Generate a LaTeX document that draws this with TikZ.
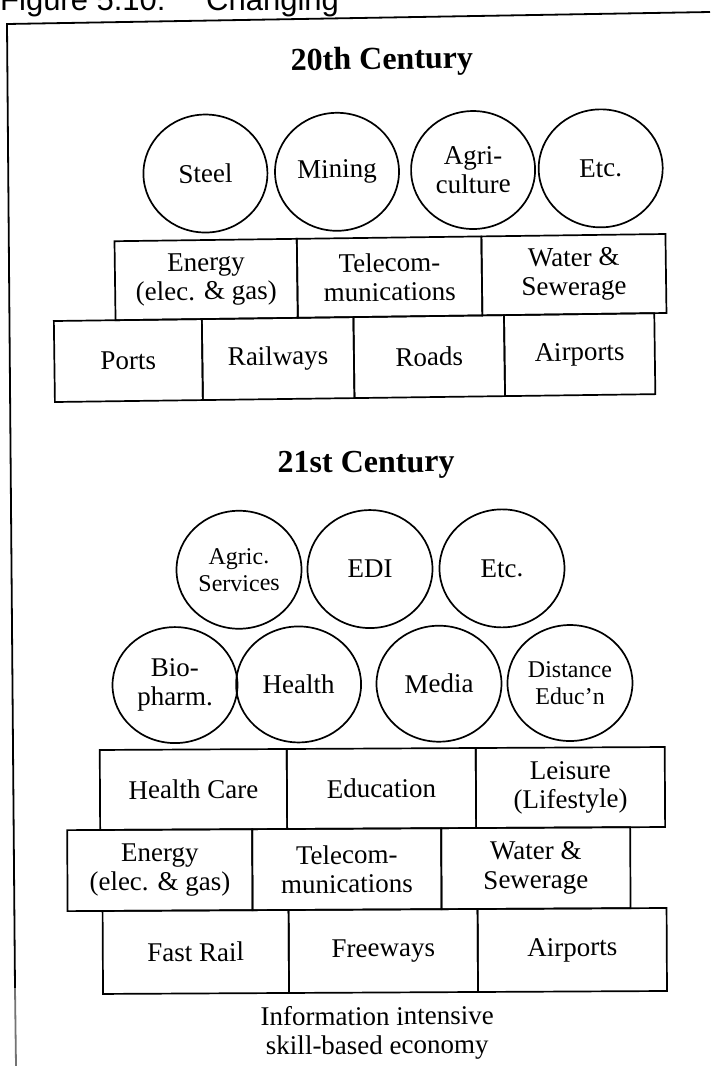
\documentclass[tikz,border=0pt]{standalone}
\usepackage{fontspec}
\setmainfont{Liberation Serif}
\newfontfamily\headsans{Liberation Sans}
\usetikzlibrary{shapes.geometric}

\newcommand\bodyfs{\fontsize{27}{29}\selectfont}
\newcommand\tightfs{\fontsize{24}{27}\selectfont}
\newcommand\titlefs{\fontsize{32}{32}\selectfont\bfseries}
\newcommand\headfs{\headsans\fontsize{31}{31}\selectfont}

\tikzset{
  sector/.style={draw, line width=1.7pt, inner sep=0pt, align=center,
                 font=\bodyfs, transform shape},
  industry/.style={draw, ellipse, line width=1.7pt, inner sep=0pt, align=center,
                   font=\bodyfs, minimum width=124pt, minimum height=118pt,
                   transform shape},
  heading/.style={inner sep=0pt, font=\titlefs, transform shape},
}

\begin{document}
\begin{tikzpicture}[x=1pt, y=-1pt]
  \useasboundingbox (0,0) rectangle (710,1066);

  % figure caption, cut off at the top edge of the page
  \node[anchor=base west, inner sep=0pt, font=\headfs] (fig) at (0,10) {Figure 5.10:};
  \node[anchor=base west, inner sep=0pt, font=\headfs] (chg) at (206,10) {Changing};

  % frame
  \coordinate (ftl) at (7,24);
  \coordinate (ftr) at (710,12);
  \coordinate (fmid) at (15,988);
  \coordinate (fbl) at (16,1066);
  \draw[line width=1.8pt] (ftr) -- (ftl) -- (fmid);
  \draw[line width=1.8pt, black!55] (fmid) -- (fbl);

  % ---------------- 20th century ----------------
  \begin{scope}[rotate around={0.75:(360,240)}]
    \node[heading] (t20) at (384.3,62) {20th Century};

    \node[industry] (steel)  at (206.3,171.5) {Steel};
    \node[industry] (mining) at (337.9,171.5) {Mining};
    \node[industry] (agri)   at (474.0,171.5) {Agri-\\culture};
    \node[industry] (etcA)   at (601.6,171.5) {Etc.};

    \node[sector, minimum width=182.3pt, minimum height=79pt] (energyA) at (205.65,277.5) {Energy\\(elec. \& gas)};
    \node[sector, minimum width=184.6pt, minimum height=79pt] (telecomA) at (389.1,277.5) {Telecom-\\munications};
    \node[sector, minimum width=184.1pt, minimum height=79pt] (waterA) at (573.45,277.5) {Water \&\\Sewerage};

    \node[sector, minimum width=148pt, minimum height=81pt] (ports) at (126.8,357.5) {Ports};
    \node[sector, minimum width=151.6pt, minimum height=81pt] (rail) at (276.6,357.5) {Railways};
    \node[sector, minimum width=150.6pt, minimum height=81pt] (roads) at (427.7,357.5) {Roads};
    \node[sector, minimum width=150.3pt, minimum height=81pt] (airA) at (578.15,357.5) {Airports};
  \end{scope}

  % ---------------- 21st century ----------------
  \begin{scope}[rotate around={0.3:(380,800)}]
    \node[heading] (t21) at (367.8,465) {21st Century};

    \node[industry, minimum width=125pt, font=\tightfs] (agserv) at (240.2,569) {Agric.\\Services};
    \node[industry, minimum width=125pt] (edi)  at (371.2,569) {EDI};
    \node[industry, minimum width=125pt] (etcB) at (503.2,569) {Etc.};

    \node[industry, minimum width=125pt, minimum height=116pt] (bio)    at (175.6,684) {Bio-\\pharm.};
    \node[industry, minimum width=125pt, minimum height=116pt] (health) at (299.2,684) {Health};
    \node[industry, minimum width=125pt, minimum height=116pt] (media)  at (439.6,684) {Media};
    \node[industry, minimum width=125pt, minimum height=116pt, font=\tightfs] (dist) at (570.6,684) {Distance\\Educ’n};

    \node[sector, minimum width=187pt, minimum height=80pt] (care)    at (193.5,788.5) {Health Care};
    \node[sector, minimum width=189pt, minimum height=80pt] (educ)    at (381.5,788.5) {Education};
    \node[sector, minimum width=189pt, minimum height=80pt] (leisure) at (570.5,788.5) {Leisure\\(Lifestyle)};

    \node[sector, minimum width=185pt, minimum height=81pt] (energyB)  at (159.5,869) {Energy\\(elec. \& gas)};
    \node[sector, minimum width=189pt, minimum height=81pt] (telecomB) at (346.5,869) {Telecom-\\munications};
    \node[sector, minimum width=189pt, minimum height=81pt] (waterB)   at (535.5,869) {Water \&\\Sewerage};

    \node[sector, minimum width=186pt, minimum height=83pt] (fastrail) at (195,951) {Fast Rail};
    \node[sector, minimum width=189pt, minimum height=83pt] (freeways) at (382.5,951) {Freeways};
    \node[sector, minimum width=189pt, minimum height=83pt] (airB)     at (571.5,951) {Airports};

    \node[inner sep=0pt, align=center, font=\bodyfs, transform shape] (economy) at (376,1033)
      {Information intensive\\skill-based economy};
  \end{scope}
\end{tikzpicture}
\end{document}
